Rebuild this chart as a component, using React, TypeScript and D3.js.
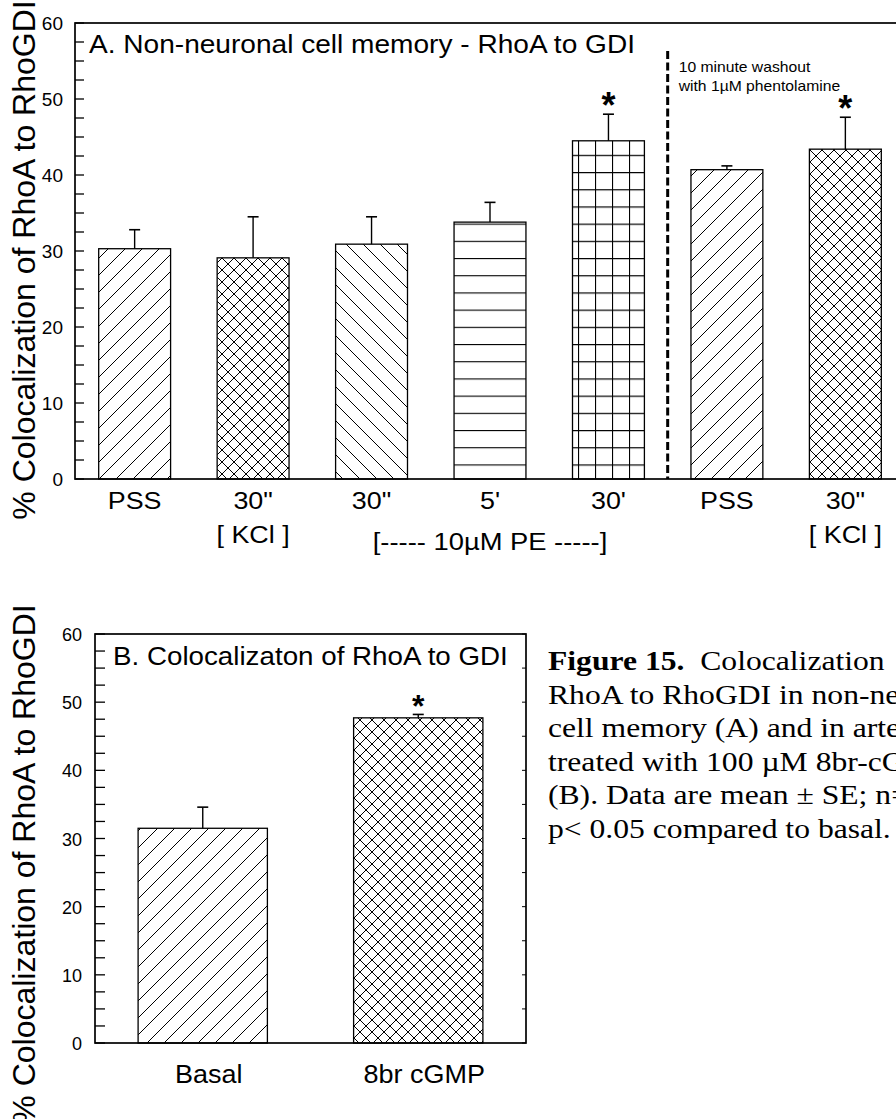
import React from 'react';
import * as d3 from 'd3';

const W = 896;
const H = 1119;
const SANS = 'Liberation Sans, Arial, Helvetica, sans-serif';
const SERIF = 'Liberation Serif, Times New Roman, serif';

// Panel A - non-neuronal cell memory
const panelAKeys = ['pss', 'kcl', 'pe30s', 'pe5m', 'pe30m', 'washPss', 'washKcl'];
const panelALabels = ['PSS', '30"', '30"', "5'", "30'", 'PSS', '30"'];
const panelASubLabels = ['', '[ KCl ]', '', '', '', '', '[ KCl ]'];
const panelAMeans = [30.3, 29.1, 30.9, 33.8, 44.5, 40.7, 43.4];
const panelASE = [2.5, 5.4, 3.6, 2.6, 3.5, 0.5, 4.2];
const panelAFills = ['fwd', 'cross', 'back', 'horiz', 'grid', 'fwd', 'cross'];
const panelAStars = [false, false, false, false, true, false, true];

// Panel B - 8br cGMP
const panelBKeys = ['Basal', '8br cGMP'];
const panelBMeans = [31.5, 47.7];
const panelBSE = [3.1, 0.5];
const panelBFills = ['fwd', 'cross'];
const panelBStars = [false, true];

const yTickLabels = [0, 10, 20, 30, 40, 50, 60];
const yLabel = '% Colocalization of RhoA to RhoGDI';

const captionLines = [
  'RhoA to RhoGDI in non-neuronal',
  'cell memory (A) and in arteries',
  'treated with 100 \u00b5M 8br-cGMP',
  '(B). Data are mean \u00b1 SE; n=',
  'p< 0.05 compared to basal.',
];

function SText({ x, y, sx = 1, size, anchor = 'start', family = SANS, weight = 'normal', children }: any) {
  return (
    <text
      transform={`translate(${x},${y}) scale(${sx},1)`}
      fontSize={size}
      fontFamily={family}
      fontWeight={weight}
      textAnchor={anchor}
      fill="#000"
    >
      {children}
    </text>
  );
}

function Patterns() {
  return (
    <defs>
      <pattern id="pat-fwd" patternUnits="userSpaceOnUse" width="17" height="17">
        <path d="M0,17 L17,0 M-4,4 L4,-4 M13,21 L21,13" stroke="#000" strokeWidth="1" />
      </pattern>
      <pattern id="pat-back" patternUnits="userSpaceOnUse" width="17" height="17">
        <path d="M0,0 L17,17 M-4,13 L4,21 M13,-4 L21,4" stroke="#000" strokeWidth="1" />
      </pattern>
      <pattern id="pat-cross" patternUnits="userSpaceOnUse" width="12" height="12">
        <path d="M0,12 L12,0 M-3,3 L3,-3 M9,15 L15,9 M0,0 L12,12 M-3,9 L3,15 M9,-3 L15,3" stroke="#000" strokeWidth="1" />
      </pattern>
      <pattern id="pat-horiz" patternUnits="userSpaceOnUse" width="17" height="17.2">
        <path d="M0,0.5 L17,0.5" stroke="#000" strokeWidth="1.2" />
      </pattern>
      <pattern id="pat-grid" patternUnits="userSpaceOnUse" width="17" height="17.2">
        <path d="M0,0.5 L17,0.5 M0.5,0 L0.5,17.2" stroke="#000" strokeWidth="1.2" />
      </pattern>
    </defs>
  );
}

function PanelA() {
  const left = 75, top = 23, bottom = 479, right = 905;
  const x = d3.scaleBand().domain(panelAKeys).range([left, right]).paddingInner(0.393).paddingOuter(0.2);
  const y = d3.scaleLinear().domain([0, 60]).range([bottom, top]);
  const bw = x.bandwidth();
  const minor = d3.range(0, 60.01, 2.5);
  const dashX = (x('pe30m') as number) + bw + (x.step() - bw) / 2;
  const peCenter = (x('pe5m') as number) + bw / 2;

  return (
    <g>
      {panelAKeys.map((k, i) => {
        const bx = x(k) as number;
        const cx = bx + bw / 2;
        const top = y(panelAMeans[i] + panelASE[i]);
        return (
          <g key={k}>
            <rect x={bx} y={y(panelAMeans[i])} width={bw} height={y(0) - y(panelAMeans[i])}
              fill={`url(#pat-${panelAFills[i]})`} stroke="#000" strokeWidth={1.3} />
            <line x1={cx} x2={cx} y1={y(panelAMeans[i])} y2={top} stroke="#000" strokeWidth={1.4} />
            <line x1={cx - 5.5} x2={cx + 5.5} y1={top} y2={top} stroke="#000" strokeWidth={1.6} />
            {panelAStars[i] && (
              <SText x={cx} y={top + 4} size={36} anchor="middle" weight="bold">*</SText>
            )}
            <SText x={cx} y={y(0) + 30} size={24} sx={1.12} anchor="middle">{panelALabels[i]}</SText>
            {panelASubLabels[i] && (
              <SText x={cx} y={y(0) + 64} size={24} sx={1.12} anchor="middle">{panelASubLabels[i]}</SText>
            )}
          </g>
        );
      })}

      <rect x={left} y={top} width={right - left} height={bottom - top} fill="none" stroke="#000" strokeWidth={1.7} />
      {minor.map((t) => (
        <line key={t} x1={left} x2={left + 9} y1={y(t)} y2={y(t)} stroke="#000" strokeWidth={1.3} />
      ))}
      {yTickLabels.map((t) => (
        <SText key={t} x={left - 12} y={y(t) + 7} size={19} anchor="end">{t}</SText>
      ))}

      <line x1={dashX} x2={dashX} y1={y(56.3)} y2={y(0)} stroke="#000" strokeWidth={3} strokeDasharray="8,3.5" />
      <SText x={dashX + 11} y={72} size={14} sx={1.12}>10 minute washout</SText>
      <SText x={dashX + 11} y={91} size={14} sx={1.12}>with 1{'\u00b5'}M phentolamine</SText>

      <SText x={peCenter} y={y(0) + 71} size={24} sx={1.14} anchor="middle">[----- 10{'\u00b5'}M PE -----]</SText>
      <SText x={89} y={53} size={26} sx={1.08}>A. Non-neuronal cell memory - RhoA to GDI</SText>
      <text transform="translate(35,260) rotate(-90)" fontSize={32} fontFamily={SANS} textAnchor="middle">{yLabel}</text>
    </g>
  );
}

function PanelB() {
  const left = 95, top = 634, bottom = 1043, right = 526;
  const x = d3.scaleBand().domain(panelBKeys).range([left, right]).paddingInner(0.4).paddingOuter(0.2);
  const y = d3.scaleLinear().domain([0, 60]).range([bottom, top]);
  const bw = x.bandwidth();
  const minor = d3.range(0, 60.01, 2.5);

  return (
    <g>
      {panelBKeys.map((k, i) => {
        const bx = x(k) as number;
        const cx = bx + bw / 2;
        const top = y(panelBMeans[i] + panelBSE[i]);
        return (
          <g key={k}>
            <rect x={bx} y={y(panelBMeans[i])} width={bw} height={y(0) - y(panelBMeans[i])}
              fill={`url(#pat-${panelBFills[i]})`} stroke="#000" strokeWidth={1.3} />
            <line x1={cx} x2={cx} y1={y(panelBMeans[i])} y2={top} stroke="#000" strokeWidth={1.4} />
            <line x1={cx - 5.5} x2={cx + 5.5} y1={top} y2={top} stroke="#000" strokeWidth={1.6} />
            {panelBStars[i] && (
              <SText x={cx} y={top + 3} size={32} anchor="middle" weight="bold">*</SText>
            )}
            <SText x={cx + 6} y={y(0) + 40} size={25} sx={1.08} anchor="middle">{k}</SText>
          </g>
        );
      })}

      <rect x={left} y={top} width={right - left} height={bottom - top} fill="none" stroke="#000" strokeWidth={1.7} />
      {minor.map((t) => (
        <g key={t}>
          <line x1={left} x2={left + 10} y1={y(t)} y2={y(t)} stroke="#000" strokeWidth={1.3} />
          {t % 5 === 0 && <line x1={right - 4} x2={right} y1={y(t)} y2={y(t)} stroke="#000" strokeWidth={1} />}
        </g>
      ))}
      {yTickLabels.map((t) => (
        <SText key={t} x={left - 13} y={y(t) + 7} size={18} anchor="end">{t}</SText>
      ))}
      <SText x={113} y={665} size={25} sx={1.11}>B. Colocalizaton of RhoA to GDI</SText>
      <text transform="translate(35,864) rotate(-90)" fontSize={32} fontFamily={SANS} textAnchor="middle">{yLabel}</text>
    </g>
  );
}

function Caption() {
  const x0 = 548, y0 = 670, lh = 33.5;
  return (
    <g>
      <text transform={`translate(${x0},${y0}) scale(1.13,1)`} fontSize={28} fontFamily={SERIF} fill="#000">
        <tspan fontWeight="bold">Figure 15.</tspan>
        <tspan>{'\u00a0 Colocalization'}</tspan>
      </text>
      {captionLines.map((l, i) => (
        <SText key={i} x={x0} y={y0 + lh * (i + 1)} size={28} sx={1.13} family={SERIF}>{l}</SText>
      ))}
    </g>
  );
}

export default function App() {
  return (
    <div style={{ position: 'absolute', left: 0, top: 0, width: W, height: H, overflow: 'hidden' }}>
      <svg width={W} height={H} style={{ display: 'block' }}>
        <rect width={W} height={H} fill="#fff" />
        <Patterns />
        <PanelA />
        <PanelB />
        <Caption />
      </svg>
    </div>
  );
}
